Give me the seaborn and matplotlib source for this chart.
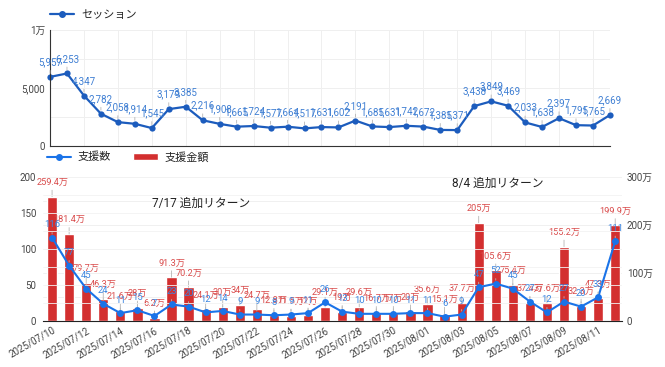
import numpy as np
import pandas as pd
import matplotlib
matplotlib.use("Agg")
import matplotlib.pyplot as plt
import seaborn as sns
from matplotlib.lines import Line2D
from matplotlib.patches import Patch

sns.set_style("white")
plt.rcParams["font.family"] = ["Roboto", "Noto Sans CJK JP", "DejaVu Sans"]

# ---- data
dates = pd.date_range("2025-07-10", "2025-08-12")
date_labels = [d.strftime("%Y/%m/%d") for d in dates]

sessions = [5957, 6253, 4347, 2782, 2058, 1914, 1545, 3179, 3385, 2216,
            1908, 1665, 1724, 1577, 1664, 1517, 1631, 1602, 2191, 1685,
            1631, 1742, 1672, 1385, 1371, 3438, 3849, 3469, 2033, 1638,
            2397, 1795, 1765, 2669]

support_count = [116, 77, 45, 24, 11, 15, 7, 23, 20, 12,
                 14, 9, 9, 8, 9, 11, 26, 13, 10, 10,
                 10, 11, 11, 6, 9, 47, 52, 45, 27, 12,
                 27, 20, 33, 111]

# 支援金額 (万円)
support_amount = [259.4, 181.4, 79.7, 46.3, 21.6, 28.0, 6.2, 91.3, 70.2, 24.1,
                  30.0, 34.0, 24.7, 12.8, 11.5, 12.0, 29.1, 19.0, 29.6, 16.7,
                  17.0, 20.0, 35.6, 15.1, 37.7, 205.0, 105.6, 75.4, 37.4, 37.6,
                  155.2, 32.3, 47.3, 199.9]

count_ticks = [0, 50, 100, 150, 200]

idx = np.arange(len(dates))

top_line = "#1c5cbd"
top_text = "#3f7fd3"
bot_line = "#1a73e8"
bot_text = "#3d86e0"
bar_col = "#d32f2f"
bar_text = "#d94b4b"
lead = "#b5b5b5"

fig = plt.figure(figsize=(6.65, 3.67), dpi=100)

# ================= top: sessions
ax1 = fig.add_axes([0.0752, 0.6022, 0.842, 0.316])
sns.lineplot(x=idx, y=sessions, ax=ax1, color=top_line, linewidth=1.6,
             marker="o", markersize=4.5, markeredgewidth=0, clip_on=False)
ax1.set_xlim(0, 33)
ax1.set_ylim(0, 10000)
ax1.set_yticks([0, 5000, 10000])
ax1.set_yticklabels(["0", "5,000", "1万"])
ax1.set_yticks([2500, 7500], minor=True)
ax1.set_xticks(range(0, 34, 2))
ax1.set_xticklabels([])
ax1.tick_params(axis="both", which="both", length=0, labelsize=7, colors="#444444")
ax1.grid(True, which="both", color="#efefef", linewidth=0.7)
ax1.set_axisbelow(True)
for s in ["top", "right"]:
    ax1.spines[s].set_visible(False)
ax1.spines["left"].set_color("#333333")
ax1.spines["bottom"].set_color("#333333")

for i, v in zip(idx, sessions):
    ax1.annotate(f"{v:,}", xy=(i, v), xytext=(0, 7), textcoords="offset points",
                 ha="center", va="bottom", fontsize=7, color=top_text,
                 arrowprops=dict(arrowstyle="-", color=lead, lw=0.6,
                                 shrinkA=0, shrinkB=2.5))

fig.legend(handles=[Line2D([0], [0], color=top_line, lw=1.6, marker="o",
                           markersize=4, label="セッション")],
           loc="upper left", bbox_to_anchor=(0.06, 1.0), frameon=False,
           fontsize=8, handlelength=2.2, handletextpad=0.6)

# ================= bottom: amount bars + count line
ax = fig.add_axes([0.0647, 0.1253, 0.8707, 0.392])
sns.barplot(x=idx, y=support_amount, ax=ax, color=bar_col, saturation=1,
            width=0.6)
ax2 = ax.twinx()

ax.set_xlim(-0.53, 33.4)
ax.set_ylim(0, 300)
ax.set_yticks([0, 100, 200, 300])
ax.set_yticklabels(["0", "100万", "200万", "300万"])
ax.set_yticks([50, 150, 250], minor=True)
ax.yaxis.tick_right()
ax.grid(True, axis="y", which="both", color="#f0f0f0", linewidth=0.7)
ax.set_axisbelow(True)
ax.set_xticks(range(0, 34, 2))
ax.set_xticklabels(date_labels[::2], rotation=30, ha="right",
                   rotation_mode="anchor")
ax.tick_params(axis="both", which="both", length=0, labelsize=7, colors="#444444")
ax.tick_params(axis="x", pad=3)
ax.set_xlabel("")
for s in ["top", "right", "left"]:
    ax.spines[s].set_visible(False)
ax.spines["bottom"].set_color("#222222")

for i, v in zip(idx, support_amount):
    ax.annotate(f"{v:g}万", xy=(i, v), xytext=(0, 7), textcoords="offset points",
                ha="center", va="bottom", fontsize=6.6, color=bar_text,
                arrowprops=dict(arrowstyle="-", color=lead, lw=0.6,
                                shrinkA=0, shrinkB=0))

sns.lineplot(x=idx, y=support_count, ax=ax2, color=bot_line, linewidth=1.5,
             marker="o", markersize=5, markeredgewidth=0)
ax2.set_ylim(0, 200)
ax2.yaxis.tick_left()
ax2.set_yticks(count_ticks)
ax2.set_yticklabels([str(t) for t in count_ticks])
ax2.set_yticks([25, 75, 125, 175], minor=True)
ax2.grid(True, axis="y", which="both", color="#f3f3f3", linewidth=0.6)
ax2.tick_params(axis="y", which="both", length=0, labelsize=7, colors="#444444",
                left=True, labelleft=True, right=False, labelright=False, pad=5)
for s in ["top", "right", "left", "bottom"]:
    ax2.spines[s].set_visible(False)

for i, v in zip(idx, support_count):
    ax2.annotate(f"{v}", xy=(i, v), xytext=(0, 6), textcoords="offset points",
                 ha="center", va="bottom", fontsize=6.8, color=bot_text,
                 arrowprops=dict(arrowstyle="-", color=lead, lw=0.6,
                                 shrinkA=0, shrinkB=2.5))

ax2.text(0.188, 0.82, "7/17 追加リターン", transform=ax2.transAxes,
         fontsize=8.5, color="#222222", va="center", ha="left")
ax2.text(0.706, 0.958, "8/4 追加リターン", transform=ax2.transAxes,
         fontsize=8.5, color="#222222", va="center", ha="left")

fig.legend(handles=[Line2D([0], [0], color=bot_line, lw=1.5, marker="o",
                           markersize=4, label="支援数"),
                    Patch(facecolor=bar_col, label="支援金額")],
           loc="center left", bbox_to_anchor=(0.055, 0.572), frameon=False,
           fontsize=8, ncol=2, handlelength=2.2, handletextpad=0.6,
           columnspacing=2.0)

fig.savefig("out.png", dpi=100)
